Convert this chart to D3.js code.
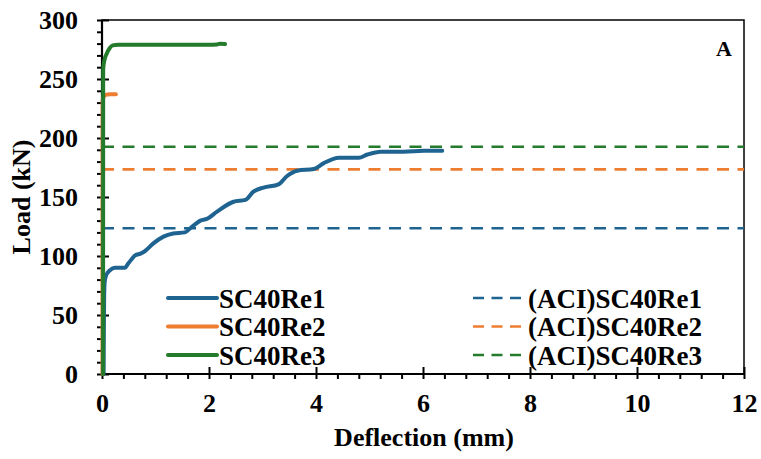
<!DOCTYPE html>
<html>
<head>
<meta charset="utf-8">
<script src="https://cdn.jsdelivr.net/npm/d3@7"></script>
<style>
  html, body { margin: 0; padding: 0; background: #fff; }
  svg { display: block; }
  text { font-family: "Liberation Serif", "Times New Roman", serif; font-weight: bold; fill: #000; }
</style>
</head>
<body>
<svg id="chart" width="761" height="459"></svg>
<script>
// ---------- data ----------
const re1X = [0.03, 0.035, 0.04, 0.05, 0.08, 0.15, 0.24, 0.43, 0.48, 0.55, 0.62, 0.72, 0.80, 0.96, 1.15, 1.33, 1.55, 1.65, 1.84, 1.96, 2.15, 2.46, 2.68, 2.83, 3.02, 3.30, 3.46, 3.65, 3.96, 4.14, 4.43, 4.80, 4.96, 5.21, 5.64, 6.02, 6.36];
const re1Y = [0, 40, 65, 78, 84, 88, 90, 90, 93, 97, 100.5, 102, 104, 110.7, 116.4, 119, 120, 123.5, 130, 131.4, 137.6, 146, 147.5, 154.5, 158, 160.7, 167.8, 172.3, 173.7, 178.5, 183.3, 183.3, 186, 188.4, 188.4, 189.2, 189.2];

const re2X = [0.01, 0.012, 0.06, 0.15, 0.26];
const re2Y = [0, 232, 236.5, 237, 237];

const re3X = [0.02, 0.022, 0.04, 0.09, 0.14, 0.20, 0.30, 1.00, 2.00, 2.15, 2.20, 2.30];
const re3Y = [0, 258, 265, 271.7, 276, 278.5, 279, 279, 279, 279.2, 279.8, 279.6];

const aciValues = [123.5, 173.4, 192.6];

const seriesNames = ["SC40Re1", "SC40Re2", "SC40Re3"];
const aciNames = ["(ACI)SC40Re1", "(ACI)SC40Re2", "(ACI)SC40Re3"];
const colors = ["#1f6391", "#ed7d31", "#237b2b"];

const xMajorTicks = [0, 2, 4, 6, 8, 10, 12];
const yMajorTicks = [0, 50, 100, 150, 200, 250, 300];
const xTitle = "Deflection (mm)";
const yTitle = "Load (kN)";
const panelLabel = "A";

// ---------- layout ----------
const svg = d3.select("#chart");
const L = 102, R = 744, T = 20, B = 374;
const x = d3.scaleLinear().domain([0, 12]).range([L, R]);
const y = d3.scaleLinear().domain([0, 300]).range([B, T]);

// frame
svg.append("rect")
  .attr("x", L).attr("y", T).attr("width", R - L).attr("height", B - T)
  .attr("fill", "none").attr("stroke", "#000").attr("stroke-width", 1.5);

// axes
const xMinor = d3.range(0, 31).map(k => +(k * 0.4).toFixed(2));
const yMinor = d3.range(0, 31).map(k => k * 10);

function clean(g) { g.select(".domain").remove(); }

svg.append("g").attr("transform", `translate(0,${B})`)
  .call(d3.axisBottom(x).tickValues(xMinor).tickSize(5).tickFormat(""))
  .call(clean).selectAll("line").attr("stroke-width", 2);
svg.append("g").attr("transform", `translate(0,${B})`)
  .call(d3.axisTop(x).tickValues(xMajorTicks).tickSize(7).tickFormat(""))
  .call(clean).selectAll("line").attr("stroke-width", 2);
const xl = svg.append("g").attr("transform", `translate(0,${B})`)
  .call(d3.axisBottom(x).tickValues(xMajorTicks).tickSize(0).tickPadding(20).tickFormat(d3.format("d")))
  .call(clean);
xl.selectAll("text").attr("font-size", 26).attr("font-family", null);

svg.append("g").attr("transform", `translate(${L},0)`)
  .call(d3.axisLeft(y).tickValues(yMinor).tickSize(5).tickFormat(""))
  .call(clean).selectAll("line").attr("stroke-width", 2);
svg.append("g").attr("transform", `translate(${L},0)`)
  .call(d3.axisRight(y).tickValues(yMajorTicks).tickSize(7).tickFormat(""))
  .call(clean).selectAll("line").attr("stroke-width", 2);
const yl = svg.append("g").attr("transform", `translate(${L},0)`)
  .call(d3.axisLeft(y).tickValues(yMajorTicks).tickSize(0).tickPadding(24).tickFormat(d3.format("d")))
  .call(clean);
yl.selectAll("text").attr("font-size", 26).attr("font-family", null);

// axis lines
svg.append("line").attr("x1", L).attr("x2", R).attr("y1", B).attr("y2", B)
  .attr("stroke", "#000").attr("stroke-width", 2.2);
svg.append("line").attr("x1", L).attr("x2", L).attr("y1", T).attr("y2", B)
  .attr("stroke", "#000").attr("stroke-width", 2.2);

// ACI dashed lines
aciValues.forEach((v, i) => {
  svg.append("line")
    .attr("x1", x(0)).attr("x2", x(12))
    .attr("y1", y(v)).attr("y2", y(v))
    .attr("stroke", colors[i]).attr("stroke-width", 2.6)
    .attr("stroke-dasharray", "12,8.5");
});

// curves (drawn above the axes)
const seriesData = [
  re1X.map((d, i) => [d, re1Y[i]]),
  re2X.map((d, i) => [d, re2Y[i]]),
  re3X.map((d, i) => [d, re3Y[i]])
];
const line = d3.line().x(d => x(d[0])).y(d => y(d[1])).curve(d3.curveMonotoneX);
seriesData.forEach((data, i) => {
  svg.append("path")
    .attr("d", line(data))
    .attr("fill", "none")
    .attr("stroke", colors[i])
    .attr("stroke-width", 4)
    .attr("stroke-linejoin", "round")
    .attr("stroke-linecap", "round");
});

// titles
svg.append("text").attr("x", 424).attr("y", 446)
  .attr("text-anchor", "middle").attr("font-size", 26).text(xTitle);
svg.append("text").attr("transform", "translate(30,197) rotate(-90)")
  .attr("text-anchor", "middle").attr("font-size", 26).text(yTitle);
svg.append("text").attr("x", 724).attr("y", 56)
  .attr("text-anchor", "middle").attr("font-size", 22).text(panelLabel);

// legend
const rowsY = [298, 326.5, 355];
seriesNames.forEach((name, i) => {
  svg.append("line").attr("x1", 168).attr("x2", 217).attr("y1", rowsY[i]).attr("y2", rowsY[i])
    .attr("stroke", colors[i]).attr("stroke-width", 4).attr("stroke-linecap", "round");
  svg.append("text").attr("x", 219).attr("y", rowsY[i] + 9.5)
    .attr("font-size", 27).text(name);
});
aciNames.forEach((name, i) => {
  svg.append("line").attr("x1", 473).attr("x2", 527).attr("y1", rowsY[i]).attr("y2", rowsY[i])
    .attr("stroke", colors[i]).attr("stroke-width", 2.6).attr("stroke-dasharray", "11,7.5");
  svg.append("text").attr("x", 528).attr("y", rowsY[i] + 9.5)
    .attr("font-size", 27).text(name);
});
</script>
</body>
</html>
